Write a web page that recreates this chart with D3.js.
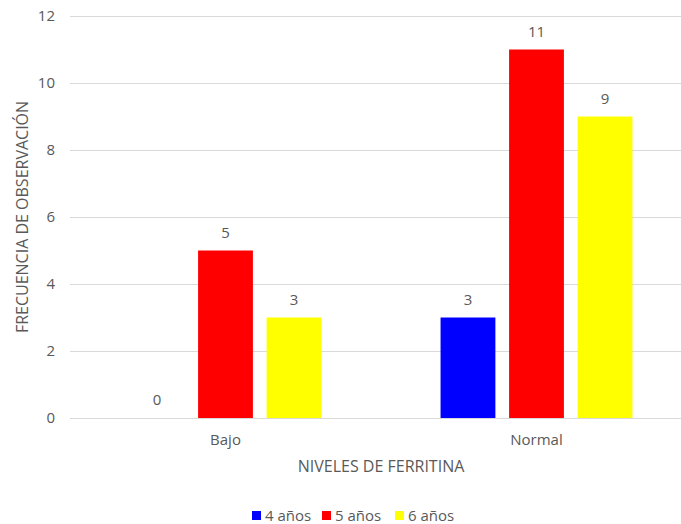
<!DOCTYPE html>
<html>
<head>
<meta charset="utf-8">
<script src="https://cdn.jsdelivr.net/npm/d3@7"></script>
<style>
  html, body { margin: 0; padding: 0; background: #fff; }
  svg { display: block; }
  text { font-family: "Open Sans", "Liberation Sans", sans-serif; fill: #595959; }
</style>
</head>
<body>
<svg id="chart" width="681" height="524"></svg>
<script>
// Ferritin levels by age group
const categories = ["Bajo", "Normal"];
const seriesNames = ["4 años", "5 años", "6 años"];
const seriesColors = ["#0000ff", "#ff0000", "#ffff00"];
const values4 = [0, 3];
const values5 = [5, 11];
const values6 = [3, 9];
const yTicks = [0, 2, 4, 6, 8, 10, 12];

const seriesValues = [values4, values5, values6];

const svg = d3.select("#chart");
const margin = { left: 70, right: -11, top: 16, bottom: 106 };
const width = 681, height = 524;

const x0 = d3.scaleBand()
  .domain(categories)
  .range([margin.left, width - margin.right])
  .paddingInner(0.383)
  .paddingOuter(0.1915);

const x1 = d3.scaleBand()
  .domain(seriesNames)
  .range([0, x0.bandwidth()])
  .paddingInner(0.2);

const y = d3.scaleLinear()
  .domain([0, 12])
  .range([height - margin.bottom, margin.top]);

// Gridlines
svg.append("g")
  .selectAll("line")
  .data(yTicks)
  .join("line")
  .attr("x1", margin.left)
  .attr("x2", width)
  .attr("y1", d => Math.round(y(d)) + 0.5)
  .attr("y2", d => Math.round(y(d)) + 0.5)
  .attr("stroke", "#d9d9d9")
  .attr("stroke-width", 1);

// Y tick labels
svg.append("g")
  .selectAll("text")
  .data(yTicks)
  .join("text")
  .attr("x", 55)
  .attr("y", d => y(d))
  .attr("dy", "0.35em")
  .attr("text-anchor", "end")
  .attr("font-size", 15)
  .text(d => d);

// Bars
const rows = [];
categories.forEach((c, ci) => {
  seriesNames.forEach((s, si) => {
    rows.push({ cat: c, series: s, value: seriesValues[si][ci], color: seriesColors[si] });
  });
});

svg.append("g")
  .selectAll("rect")
  .data(rows)
  .join("rect")
  .attr("x", d => x0(d.cat) + x1(d.series))
  .attr("width", x1.bandwidth())
  .attr("y", d => y(d.value))
  .attr("height", d => y(0) - y(d.value))
  .attr("fill", d => d.color);

// Value labels
svg.append("g")
  .selectAll("text")
  .data(rows)
  .join("text")
  .attr("x", d => x0(d.cat) + x1(d.series) + x1.bandwidth() / 2)
  .attr("y", d => y(d.value) - 13)
  .attr("text-anchor", "middle")
  .attr("font-size", 15)
  .attr("fill", "#404040")
  .text(d => d.value);

// Category labels
svg.append("g")
  .selectAll("text")
  .data(categories)
  .join("text")
  .attr("x", d => x0(d) + x0.bandwidth() / 2)
  .attr("y", y(0) + 27)
  .attr("text-anchor", "middle")
  .attr("font-size", 15)
  .text(d => d);

// Axis titles
svg.append("text")
  .attr("x", 381)
  .attr("y", 472)
  .attr("text-anchor", "middle")
  .attr("font-size", 16)
  .text("NIVELES DE FERRITINA");

svg.append("text")
  .attr("transform", "translate(28,217) rotate(-90)")
  .attr("text-anchor", "middle")
  .attr("font-size", 16)
  .text("FRECUENCIA DE OBSERVACIÓN");

// Legend
const legendX = [252, 322, 395];
const legend = svg.append("g")
  .selectAll("g")
  .data(seriesNames)
  .join("g")
  .attr("transform", (d, i) => `translate(${legendX[i]},516)`);

legend.append("rect")
  .attr("x", 0)
  .attr("y", -5)
  .attr("width", 9)
  .attr("height", 9)
  .attr("fill", (d, i) => seriesColors[i]);

legend.append("text")
  .attr("x", 13)
  .attr("y", 0)
  .attr("dy", "0.35em")
  .attr("font-size", 15)
  .text(d => d);
</script>
</body>
</html>
